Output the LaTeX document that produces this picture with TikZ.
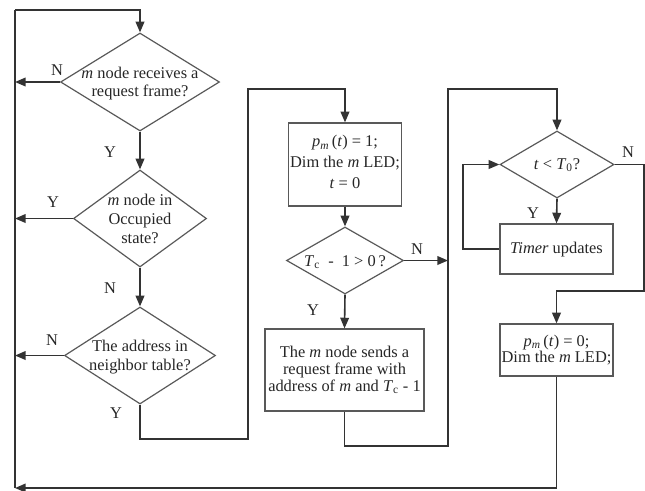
\documentclass[tikz,border=0pt]{standalone}
\usepackage{fontspec}
\setmainfont{Liberation Serif}
\usetikzlibrary{shapes.geometric,arrows.meta}
\newcommand{\vi}[1]{\textit{#1}}
\begin{document}
\begin{tikzpicture}[x=0.75pt,y=-0.75pt,
  every node/.style={font=\fontsize{12.3}{13.5}\selectfont, text=black!85},
  dia/.style={draw=black!65, line width=0.9pt, diamond, inner sep=0pt},
  box/.style={draw=black!65, line width=0.9pt, rectangle, inner sep=0pt},
  txt/.style={align=center, inner sep=0pt},
  lab/.style={inner sep=0pt},
  conn/.style={draw=black!80, line width=1.2pt},
  arr/.style={conn, -{Triangle[length=8pt,width=6.5pt]}}]
\useasboundingbox (0,0) rectangle (645,490);

% decisions
\node[dia, minimum width=159*0.75pt, minimum height=98*0.75pt] (d1) at (140,82) {};
\node[txt] (t1) at (140,83.5) {\vi{m} node receives a\\request frame?};
\node[dia, minimum width=133*0.75pt, minimum height=97*0.75pt] (d2) at (140,218.5) {};
\node[txt] (t2) at (140,219) {\vi{m} node in\\[1pt]Occupied\\[1pt]state?};
\node[dia, minimum width=151*0.75pt, minimum height=97*0.75pt] (d3) at (140,355.5) {};
\node[txt] (t3) at (140,357) {The address in\\[1pt]neighbor table?};
\node[dia, minimum width=117*0.75pt, minimum height=67*0.75pt] (d4) at (345,260.5) {};
\node[txt] (t4) at (345,262) {\vi{T}\textsubscript{c}~~-~~1 > 0\,?};
\node[dia, minimum width=114*0.75pt, minimum height=67*0.75pt] (d5) at (557,164.5) {};
\node[txt] (t5) at (557,165) {\vi{t} < \vi{T}\textsubscript{0}?};

% boxes
\node[box, minimum width=113*0.75pt, minimum height=83*0.75pt] (b1) at (345,164.5) {};
\node[txt] (tb1) at (345,162) {\vi{p}\textsubscript{\vi{m}}\,(\vi{t}) = 1;\\[2pt]Dim the \vi{m} LED;\\[2pt]\vi{t} = 0};
\node[box, minimum width=159*0.75pt, minimum height=82*0.75pt] (b2) at (344.5,370) {};
\node[txt, font=\fontsize{12.3}{12.5}\selectfont] (tb2) at (344.5,370) {The \vi{m} node sends a\\request frame with\\address of \vi{m} and \vi{T}\textsubscript{c} - 1};
\node[box, minimum width=113*0.75pt, minimum height=50*0.75pt] (b3) at (556.5,249) {};
\node[txt] (tb3) at (556.5,250) {\vi{Timer} updates};
\node[box, minimum width=113*0.75pt, minimum height=52*0.75pt] (b4) at (556.5,350) {};
\node[txt, font=\fontsize{12.3}{12.5}\selectfont] (tb4) at (556.5,350) {\vi{p}\textsubscript{\vi{m}}\,(\vi{t}) = 0;\\Dim the \vi{m} LED;};

% helper coordinates
\coordinate (tl) at (15,10);
\coordinate (bl) at (15,488);
\coordinate (c1) at (248,439);
\coordinate (c2) at (248,89);
\coordinate (c3) at (448,446);
\coordinate (c4) at (448,89);
\coordinate (lp) at (463,249);
\coordinate (r2) at (644,291);

% connectors
\draw[conn] (bl) -- (tl);
\draw[arr] (tl) -| (d1.north);
\draw[arr] (d1.west) -- (d1.west -| tl);
\draw[arr] (d1.south) -- (d2.north);
\draw[arr] (d2.west) -- (d2.west -| tl);
\draw[arr] (d2.south) -- (d3.north);
\draw[arr] (d3.west) -- (d3.west -| tl);
\draw[arr] (d3.south) |- (c1) -- (c2) -| (b1.north);
\draw[arr] (b1.south) -- (d4.north);
\draw[arr] (d4.east) -- (d4.east -| c3);
\draw[arr] (d4.south) -- (b2.north);
\draw[arr] (b2.south) |- (c3) -- (c4) -| (d5.north);
\draw[arr] (d5.south) -- (b3.north);
\draw[arr] (b3.west) -- (lp) -- (lp |- d5.west) -- (d5.west);
\draw[arr] (d5.east) -| (r2) -| (b4.north);
\draw[arr] (b4.south) |- (bl);

% labels
\node[lab] (n1) at (57,70) {N};
\node[lab] (y1) at (110,152) {Y};
\node[lab] (y2) at (53,202) {Y};
\node[lab] (n2) at (110,288) {N};
\node[lab] (n3) at (52,340) {N};
\node[lab] (y3) at (116,413) {Y};
\node[lab] (n4) at (417,249) {N};
\node[lab] (y4) at (313,310) {Y};
\node[lab] (n5) at (628,152) {N};
\node[lab] (y5) at (533,213) {Y};
\end{tikzpicture}
\end{document}
